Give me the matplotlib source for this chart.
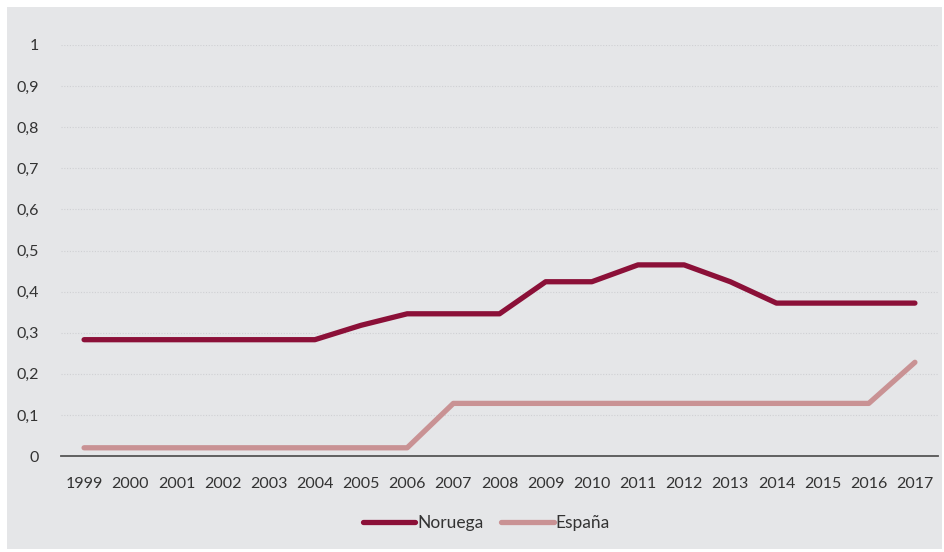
import matplotlib
matplotlib.use('Agg')
import matplotlib.pyplot as plt
from matplotlib.patches import Rectangle
from matplotlib.ticker import FuncFormatter

# series
years = [str(y) for y in range(1999, 2018)]
noruega = [0.283, 0.283, 0.283, 0.283, 0.283, 0.283, 0.318, 0.346, 0.346, 0.346,
           0.424, 0.424, 0.465, 0.465, 0.424, 0.372, 0.372, 0.372, 0.372]
espana = [0.02, 0.02, 0.02, 0.02, 0.02, 0.02, 0.02, 0.02, 0.128, 0.128,
          0.128, 0.128, 0.128, 0.128, 0.128, 0.128, 0.128, 0.128, 0.228]
yticks = [0, 0.1, 0.2, 0.3, 0.4, 0.5, 0.6, 0.7, 0.8, 0.9, 1]

plt.rcParams['font.family'] = ['Lato', 'DejaVu Sans']

W, H = 945, 552
fig = plt.figure(figsize=(W / 100, H / 100), dpi=100)
fig.patch.set_facecolor('white')
bg = '#e5e6e8'
fig.add_artist(Rectangle((7 / W, 3 / H), 935 / W, 542 / H, transform=fig.transFigure,
                         facecolor=bg, edgecolor='none', zorder=-10))

ax = fig.add_axes([61 / W, (H - 456) / H, (938 - 61) / W, (456 - 45) / H])
ax.set_facecolor('none')
ax.set_zorder(1)

x = list(range(len(years)))
ax.plot(x, noruega, color='#8b1038', lw=3.8, solid_capstyle='round', label='Noruega', zorder=3)
ax.plot(x, espana, color='#c99294', lw=3.8, solid_capstyle='round', label='España', zorder=3)

ax.set_xlim(-0.5, len(years) - 0.5)
ax.set_ylim(0, 1)
ax.set_yticks(yticks)
ax.yaxis.set_major_formatter(FuncFormatter(lambda v, p: ('%g' % v).replace('.', ',')))
ax.set_xticks(x)
ax.set_xticklabels(years)
ax.grid(axis='y', color='#cfd0d3', linestyle=(0, (1, 1.5)), lw=0.8)
ax.set_axisbelow(True)

for s in ['top', 'right', 'left']:
    ax.spines[s].set_visible(False)
ax.spines['bottom'].set_color('#555555')
ax.spines['bottom'].set_linewidth(1.3)
ax.tick_params(axis='both', length=0, labelsize=11.5, colors='#333333')
ax.tick_params(axis='y', pad=16)
ax.tick_params(axis='x', pad=15)

leg = ax.legend(loc='center', bbox_to_anchor=(0.485, -0.163), ncol=2, frameon=False,
                fontsize=12.5, handlelength=3.0, handletextpad=0.1, columnspacing=1.05)
for t in leg.get_texts():
    t.set_color('#333333')

fig.savefig('out.png', dpi=100, facecolor=fig.get_facecolor())
